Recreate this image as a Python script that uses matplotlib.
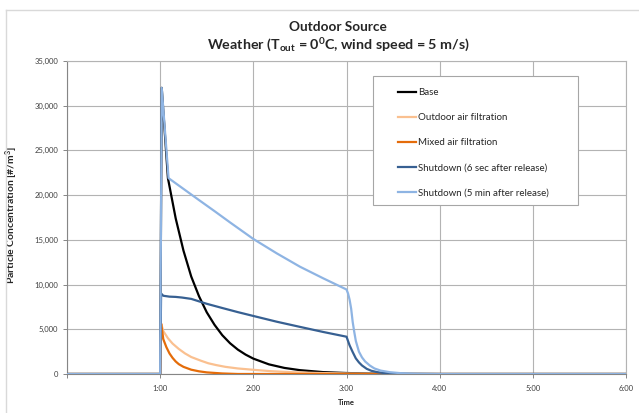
import matplotlib
matplotlib.use("Agg")
import matplotlib.pyplot as plt
from matplotlib.ticker import FuncFormatter
from matplotlib.patches import Rectangle
from matplotlib.lines import Line2D

plt.rcParams['font.family'] = ['Lato', 'DejaVu Sans']
plt.rcParams['mathtext.fontset'] = 'custom'
plt.rcParams['mathtext.rm'] = 'Lato:bold'
plt.rcParams['mathtext.bf'] = 'Lato:bold'
plt.rcParams['mathtext.it'] = 'Lato:bold:italic'

# time in minutes since start, values in #/m3
base_t = [0, 60, 61, 65, 70, 75, 80, 85, 90, 95, 100, 105, 110, 115, 120, 130, 140,
          150, 165, 180, 195, 210, 240, 360]
base_v = [0, 0, 32000, 21900, 17400, 13800, 10900, 8700, 6900, 5500, 4340, 3440, 2730,
          2170, 1720, 1080, 680, 430, 210, 110, 50, 25, 0, 0]

outdoor_t = [0, 60, 60.7, 62, 65, 68, 72, 76, 80, 86, 91, 96, 102, 110, 120, 131, 145,
             160, 180, 210, 360]
outdoor_v = [0, 0, 5600, 4800, 4000, 3400, 2800, 2300, 1900, 1500, 1200, 1000, 800, 620,
             470, 320, 200, 120, 60, 0, 0]

mixed_t = [0, 60, 60.7, 62, 64, 66, 68, 70, 72, 75, 80, 85, 90, 100, 110, 360]
mixed_v = [0, 0, 5600, 3900, 3000, 2300, 1800, 1400, 1100, 800, 480, 300, 180, 60, 0, 0]

shut6_t = [0, 60, 60.6, 62, 66, 70, 74, 80, 86, 90, 100, 105, 110, 120, 135, 150, 165,
           180, 182, 184, 186, 188, 190, 193, 196, 200, 205, 210, 220, 360]
shut6_v = [0, 0, 9000, 8750, 8650, 8620, 8550, 8400, 8070, 7850, 7380, 7150, 6920, 6490,
           5850, 5270, 4700, 4170, 3200, 2450, 1750, 1300, 950, 580, 360, 200, 90, 40, 0, 0]

shut5_t = [0, 60, 61, 65.4, 75, 85, 95.5, 105, 120, 135, 150, 165, 180, 181, 182, 183,
           184, 185, 186, 188, 190, 192, 195, 198, 202, 208, 215, 225, 240, 360]
shut5_v = [0, 0, 32000, 21900, 20700, 19450, 18150, 16950, 15100, 13500, 12000, 10700,
           9450, 9000, 8300, 7300, 5800, 4700, 3700, 2500, 1850, 1400, 950, 620, 380, 200,
           90, 30, 0, 0]

labels = ["Base", "Outdoor air filtration", "Mixed air filtration",
          "Shutdown (6 sec after release)", "Shutdown (5 min after release)"]
colors = ["#000000", "#FAC090", "#E46C0A", "#376092", "#8EB4E3"]

x_ticks = [0, 60, 120, 180, 240, 300, 360]
x_tick_labels = ["", "1:00", "2:00", "3:00", "4:00", "5:00", "6:00"]
y_ticks = [0, 5000, 10000, 15000, 20000, 25000, 30000, 35000]

fig = plt.figure(figsize=(6.39, 4.13), dpi=100)
fig.patch.set_facecolor("white")
ax = fig.add_axes([67 / 639, 1 - 374 / 413, (626 - 67) / 639, (374 - 61) / 413])

series = [(base_t, base_v), (outdoor_t, outdoor_v), (mixed_t, mixed_v),
          (shut6_t, shut6_v), (shut5_t, shut5_v)]
for (t, v), c in zip(series, colors):
    ax.plot(t, v, color=c, lw=1.6, solid_joinstyle="round", zorder=3)

ax.set_xlim(0, 360)
ax.set_ylim(0, 35000)
ax.set_xticks(x_ticks)
ax.set_xticklabels(x_tick_labels)
ax.set_yticks(y_ticks)
ax.yaxis.set_major_formatter(FuncFormatter(lambda v, p: f"{int(v):,}"))
ax.tick_params(axis="both", labelsize=5.5, labelcolor="#404040", color="#868686",
               length=3, width=0.7)
ax.tick_params(axis="x", pad=5)
ax.grid(True, color="#B3B3B3", lw=0.8, zorder=0)
ax.set_axisbelow(True)
for s in ["left", "bottom"]:
    ax.spines[s].set_color("#868686")
    ax.spines[s].set_linewidth(0.8)
for s in ["top", "right"]:
    ax.spines[s].set_color("#B3B3B3")
    ax.spines[s].set_linewidth(0.8)

ax.set_xlabel("Time", fontsize=5.5, fontweight="bold", color="#262626", labelpad=5)
ax.set_ylabel("Particle Concentration [#/m$^3$]", fontsize=7.5, fontweight="bold",
              color="#262626")
ax.yaxis.set_label_coords((20 - 67) / 559, (374 - 215) / 313)

fig.text(0.529, 1 - 27 / 413, "Outdoor Source", ha="center", va="center",
         fontsize=9.8, fontweight="bold", color="#262626")
fig.text(0.529, 1 - 45 / 413,
         r"Weather (T$_{\mathrm{out}}$ = 0$^{\mathrm{0}}$C, wind speed = 5 m/s)",
         ha="center", va="center", fontsize=10.3, fontweight="bold", color="#262626")

# legend box
fig.patches.append(Rectangle((373 / 639, 1 - 205 / 413), 205 / 639, 129 / 413,
                             transform=fig.transFigure, facecolor="white",
                             edgecolor="#A6A6A6", lw=0.8, zorder=5))
handles = [Line2D([], [], color=c, lw=1.6) for c in colors]
leg = fig.legend(handles, labels, loc="upper left",
                 bbox_to_anchor=(398 / 639, 1 - 88 / 413), frameon=False,
                 fontsize=7, handlelength=1.9, handletextpad=0.15,
                 labelspacing=1.65, borderpad=0, borderaxespad=0)
leg.set_zorder(6)
for txt in leg.get_texts():
    txt.set_color("#262626")

# chart area border (left and top visible)
fig.lines.append(Line2D([6 / 639, 6 / 639], [0, 1 - 10 / 413], transform=fig.transFigure,
                        color="#D9D9D9", lw=1))
fig.lines.append(Line2D([6 / 639, 1], [1 - 10 / 413, 1 - 10 / 413],
                        transform=fig.transFigure, color="#D9D9D9", lw=1))

fig.savefig("out.png", dpi=100)
